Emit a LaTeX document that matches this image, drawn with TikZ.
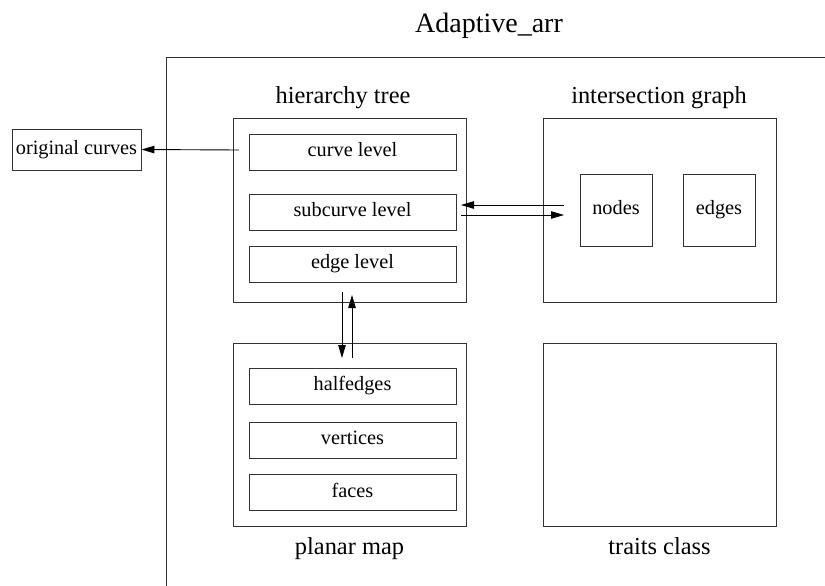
\documentclass[tikz,border=0pt]{standalone}
\usepackage{fontspec}
\setmainfont{Liberation Serif}
\usetikzlibrary{arrows.meta}
\begin{document}
\begin{tikzpicture}[x=1pt,y=-1pt,
  line width=0.9pt, draw=black!80,
  frame/.style={draw=black!80, line width=0.9pt},
  bigbox/.style={draw=black!80, line width=0.9pt, minimum width=233pt, minimum height=184pt, inner sep=0pt},
  boxtext/.style={font=\fontsize{20.3}{24}\selectfont, text height=13pt, text depth=4pt},
  levelbox/.style={draw=black!80, line width=0.9pt, minimum width=207pt, minimum height=36pt, inner sep=0pt, boxtext},
  graphbox/.style={draw=black!80, line width=0.9pt, minimum width=72pt, minimum height=72pt, inner sep=0pt, boxtext},
  caption/.style={anchor=base, inner sep=0pt, font=\fontsize{24.4}{28}\selectfont},
  link/.style={draw=black, line width=0.9pt, -{Triangle[length=13pt,width=7.5pt]}}
]
\useasboundingbox (0,0) rectangle (825,586);

% title and the open outer frame
\node[anchor=base, inner sep=0pt, font=\fontsize{28}{32}\selectfont] (title) at (489,33) {Adaptive\_arr};
\draw[frame] (166,586) -- (166,57) -- (825,57);

% external box
\node[draw=black!80, line width=0.9pt, minimum width=129pt, minimum height=41pt, inner sep=0pt,
      boxtext] (orig) at (76.5,149.5) {original curves};

% hierarchy tree
\node[bigbox] (htree) at (349.5,210) {};
\node[caption] (htreecap) at (343,103) {hierarchy tree};
\node[levelbox] (curve) at (352.5,152) {curve level};
\node[levelbox] (subcurve) at (352.5,212) {subcurve level};
\node[levelbox] (edgelev) at (352.5,264) {edge level};

% intersection graph
\node[bigbox] (igraph) at (659.5,210) {};
\node[caption] (igraphcap) at (659,103) {intersection graph};
\node[graphbox] (gnodes) at (616,210) {nodes};
\node[graphbox] (gedges) at (719,210) {edges};

% planar map
\node[bigbox, minimum height=183pt] (pmap) at (349.5,434.5) {};
\node[caption] (pmapcap) at (349.5,554) {planar map};
\node[levelbox] (halfedges) at (352.5,386) {halfedges};
\node[levelbox] (vertices) at (352.5,440) {vertices};
\node[levelbox] (faces) at (352.5,492.5) {faces};

% traits class
\node[bigbox, minimum height=183pt] (traits) at (659.5,434.5) {};
\node[caption] (traitscap) at (659.5,554) {traits class};

% connector end points
\coordinate (origsrc) at (239,150);
\coordinate (subR1) at (461,205);
\coordinate (nodL1) at (564,205);
\coordinate (subR2) at (461,215);
\coordinate (nodL2) at (564,215);
\coordinate (downA) at (342,292);
\coordinate (downB) at (342,358);
\coordinate (upA) at (352,358);
\coordinate (upB) at (352,295);

% connectors
\draw[link] (origsrc) -- (orig.east);
\draw[link] (nodL1) -- (subR1);
\draw[link] (subR2) -- (nodL2);
\draw[link] (downA) -- (downB);
\draw[link] (upA) -- (upB);
\end{tikzpicture}
\end{document}
